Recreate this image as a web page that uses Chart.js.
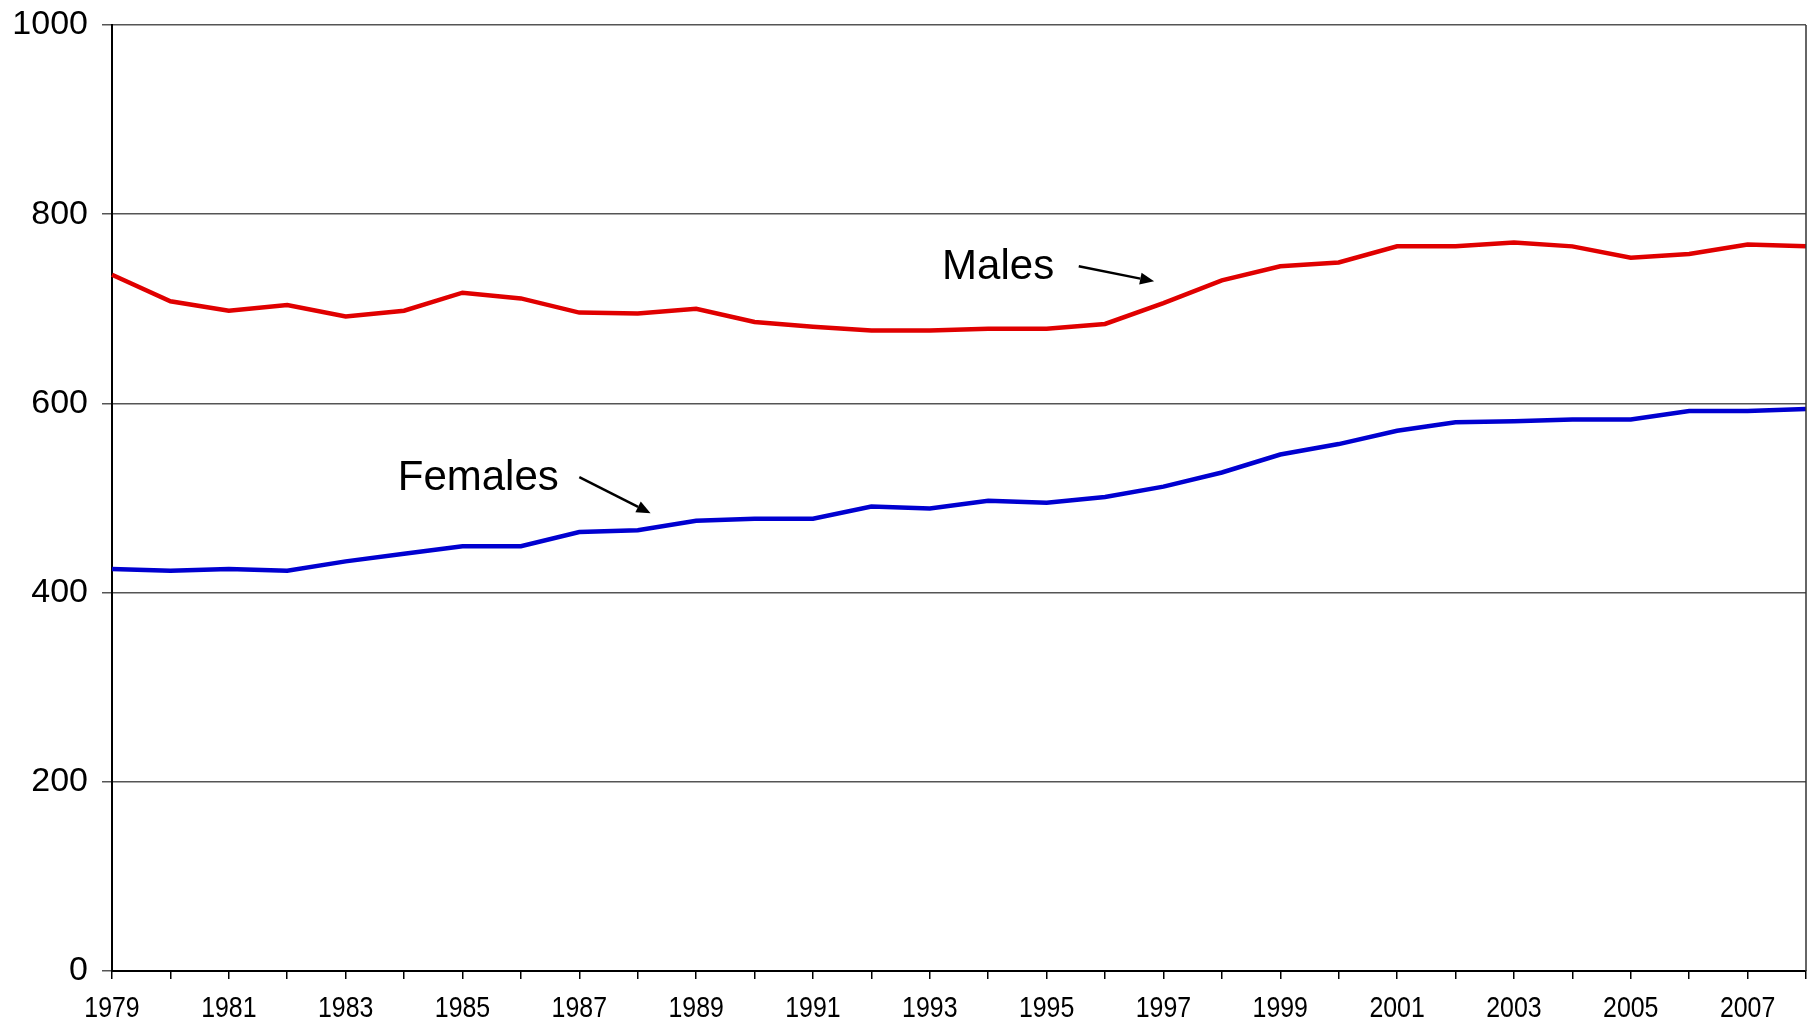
<!DOCTYPE html>
<html>
<head>
<meta charset="utf-8">
<script src="https://cdn.jsdelivr.net/npm/chart.js@4/dist/chart.umd.min.js"></script>
<style>
  html, body { margin: 0; padding: 0; background: #ffffff; }
  #wrap { width: 1810px; height: 1022px; position: relative; }
</style>
</head>
<body>
<div id="wrap"><canvas id="c" width="1810" height="1022"></canvas></div>
<script>
// ---- data ----
const years = [1979,1980,1981,1982,1983,1984,1985,1986,1987,1988,1989,1990,1991,1992,1993,1994,1995,1996,1997,1998,1999,2000,2001,2002,2003,2004,2005,2006,2007,2008];
const males   = [736,708,698,704,692,698,717,711,696,695,700,686,681,677,677,679,679,684,706,730,745,749,766,766,770,766,754,758,768,766];
const females = [425,423,425,423,433,441,449,449,464,466,476,478,478,491,489,497,495,501,512,527,546,557,571,580,581,583,583,592,592,594];
const yTicks = [0,200,400,600,800,1000];

// annotations in data units (year, value)
const noteText   = ['Males', 'Females'];
const noteAt     = [[1994.17, 744], [1985.27, 521]];
const arrowFrom  = [[1995.55, 745], [1987.0, 522]];
const arrowTo    = [[1996.84, 729], [1988.22, 484]];

const xLabel = (i) => (years[i] % 2 === 1) ? String(years[i]) : '';

const annotationPlugin = {
  id: 'notes',
  afterDatasetsDraw(chart) {
    const ctx = chart.ctx;
    const xs = chart.scales.x, ys = chart.scales.y;
    const px = (yr) => xs.getPixelForValue(yr - years[0]);
    const py = (v) => ys.getPixelForValue(v);
    ctx.save();
    const a = chart.chartArea;
    ctx.strokeStyle = '#333';
    ctx.lineWidth = 1.5;
    ctx.beginPath();
    ctx.moveTo(a.right, a.top);
    ctx.lineTo(a.right, a.bottom);
    ctx.stroke();

    // condensed x-axis tick labels, positioned by the x scale
    ctx.fillStyle = '#000';
    ctx.font = '30px "Liberation Sans", Arial, sans-serif';
    ctx.textAlign = 'center';
    ctx.textBaseline = 'middle';
    xs.ticks.forEach((t, i) => {
      const lab = xLabel(i);
      if (!lab) return;
      ctx.save();
      ctx.translate(xs.getPixelForTick(i), xs.bottom - 13);
      ctx.scale(0.83, 1);
      ctx.fillText(lab, 0, 0);
      ctx.restore();
    });

    ctx.font = '42px "Liberation Sans", Arial, sans-serif';
    for (let i = 0; i < noteText.length; i++) {
      ctx.fillText(noteText[i], px(noteAt[i][0]), py(noteAt[i][1]));
      const x1 = px(arrowFrom[i][0]), y1 = py(arrowFrom[i][1]);
      const x2 = px(arrowTo[i][0]), y2 = py(arrowTo[i][1]);
      const ang = Math.atan2(y2 - y1, x2 - x1);
      const hl = 14, hw = 6;
      const bx = x2 - hl * Math.cos(ang), by = y2 - hl * Math.sin(ang);
      ctx.strokeStyle = '#000';
      ctx.lineWidth = 2.5;
      ctx.beginPath();
      ctx.moveTo(x1, y1);
      ctx.lineTo(bx, by);
      ctx.stroke();
      ctx.beginPath();
      ctx.moveTo(x2, y2);
      ctx.lineTo(bx + hw * Math.sin(ang), by - hw * Math.cos(ang));
      ctx.lineTo(bx - hw * Math.sin(ang), by + hw * Math.cos(ang));
      ctx.closePath();
      ctx.fill();
    }
    ctx.restore();
  }
};

new Chart(document.getElementById('c'), {
  type: 'line',
  data: {
    labels: years.map(String),
    datasets: [
      { label: 'Males', data: males, borderColor: '#e00000', borderWidth: 4.5, pointRadius: 0, tension: 0, fill: false },
      { label: 'Females', data: females, borderColor: '#0000d0', borderWidth: 4.5, pointRadius: 0, tension: 0, fill: false }
    ]
  },
  options: {
    responsive: false,
    animation: false,
    events: [],
    layout: { padding: { top: 25, right: 4, bottom: 0, left: 0 } },
    plugins: { legend: { display: false }, tooltip: { enabled: false } },
    scales: {
      x: {
        type: 'category',
        offset: false,
        grid: { drawOnChartArea: false, drawTicks: true, tickLength: 8, color: '#000', lineWidth: 1.5 },
        border: { display: true, color: '#000', width: 2 },
        ticks: {
          display: false,
          autoSkip: false,
          maxRotation: 0,
          minRotation: 0,
          callback: function(v, i) { return xLabel(i); }
        },
        afterFit(scale) { scale.height = 51; scale.paddingLeft = 0; scale.paddingRight = 0; }
      },
      y: {
        min: 0,
        max: 1000,
        afterBuildTicks(scale) { scale.ticks = yTicks.map(v => ({ value: v })); },
        grid: { color: '#555', lineWidth: 1.5, tickLength: 10, drawTicks: true },
        border: { display: true, color: '#000', width: 2 },
        ticks: {
          padding: 14,
          color: '#000',
          font: { family: '"Liberation Sans", Arial, sans-serif', size: 34 },
          callback: (v) => String(v)
        },
        afterFit(scale) { scale.width = 112; scale.paddingTop = 0; scale.paddingBottom = 0; }
      }
    }
  },
  plugins: [annotationPlugin]
});
</script>
</body>
</html>
